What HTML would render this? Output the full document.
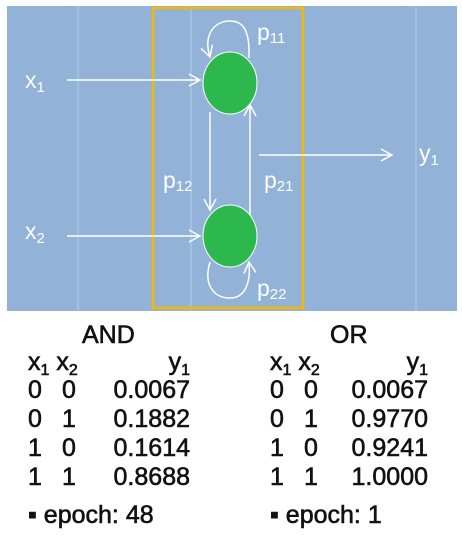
<!DOCTYPE html>
<html><head><meta charset="utf-8"><style>
body{margin:0;width:462px;height:536px;background:#fff;overflow:hidden;font-family:"Liberation Sans",sans-serif}
.t{position:absolute;color:#111;font-size:25px;line-height:1;-webkit-text-stroke:0.6px #111;white-space:nowrap}
sub{font-size:16px;vertical-align:-5px}
</style></head><body>
<svg width="462" height="320" style="position:absolute;left:0;top:0" font-family="Liberation Sans, sans-serif">
<defs><marker id="ar" markerWidth="14" markerHeight="14" refX="12" refY="7" orient="auto" markerUnits="userSpaceOnUse"><path d="M1,1 L12,7 L1,13" fill="none" stroke="#fff" stroke-width="1.5"/></marker></defs>
<rect x="7" y="6" width="450" height="305" fill="#92b2d8"/>
<g stroke="#b4c9e6" stroke-width="1"><line x1="78" y1="6" x2="78" y2="311"/><line x1="191" y1="6" x2="191" y2="311"/><line x1="416" y1="6" x2="416" y2="311"/></g>
<rect x="153" y="8" width="150" height="300" fill="none" stroke="#f5b800" stroke-width="2.5"/>
<g stroke="#fff" stroke-width="1.5" fill="none">
<line x1="67" y1="80" x2="200" y2="80" marker-end="url(#ar)"/>
<line x1="67" y1="236" x2="200" y2="236" marker-end="url(#ar)"/>
<line x1="259" y1="155" x2="392" y2="155" marker-end="url(#ar)"/>
<line x1="210" y1="112" x2="210" y2="210" marker-end="url(#ar)"/>
<line x1="250" y1="215" x2="250" y2="105" marker-end="url(#ar)"/>
<path d="M249,58 C250,30 243,21 230,21 C214,21 203,35 210,57" marker-end="url(#ar)"/>
<path d="M210,262 C203,285 214,298 230,298 C244,298 251,285 249,262" marker-end="url(#ar)"/>
</g>
<ellipse cx="230" cy="83" rx="27" ry="31" fill="#2db84e" stroke="#fff" stroke-width="1"/>
<ellipse cx="230" cy="236" rx="27" ry="31" fill="#2db84e" stroke="#fff" stroke-width="1"/>
<g fill="#fff" font-size="23">
<text x="25" y="88">x<tspan font-size="15" dy="4">1</tspan></text>
<text x="25" y="239">x<tspan font-size="15" dy="4">2</tspan></text>
<text x="419" y="161">y<tspan font-size="15" dy="4">1</tspan></text>
<text x="257" y="40">p<tspan font-size="15" dy="3">11</tspan></text>
<text x="163" y="188">p<tspan font-size="15" dy="3">12</tspan></text>
<text x="264" y="188">p<tspan font-size="15" dy="3">21</tspan></text>
<text x="257" y="296">p<tspan font-size="15" dy="3">22</tspan></text>
</g>
</svg>
<div class="t" style="left:82px;top:323px">AND</div>
<div class="t" style="left:330px;top:323px">OR</div>
<div id="tables"></div>
<script>
const inputsX1=[0,0,1,1];
const inputsX2=[0,1,0,1];
const andY=["0.0067","0.1882","0.1614","0.8688"];
const orY=["0.0067","0.9770","0.9241","1.0000"];
const epochs=["48","1"];
const host=document.getElementById('tables');
function add(txt,l,t,name,right){
  const d=document.createElement('div');d.className='t';d.innerHTML=txt;
  d.style.top=t+'px';
  if(right){d.style.right=(462-l)+'px';}else d.style.left=l+'px';
  
  
  host.appendChild(d);
}
[[andY,28,190,'and'],[orY,270,428,'or']].forEach(([ys,x0,xr,n],k)=>{
  add('x<sub>1</sub> x<sub>2</sub>',x0,350,n+'-header-x');
  add('y<sub>1</sub>',xr,350,n+'-header-y',true);
  ys.forEach((v,i)=>{
    const t=378+i*29;
    add(String(inputsX1[i]),x0,t,n+'-x1-cell');
    add(String(inputsX2[i]),x0+34,t,n+'-x2-cell');
    add(v,xr,t,n+'-y1-cell',true);
  });
  add('&#9642; epoch: '+epochs[k],x0,503,n+'-epoch');
});
</script>
</body></html>
